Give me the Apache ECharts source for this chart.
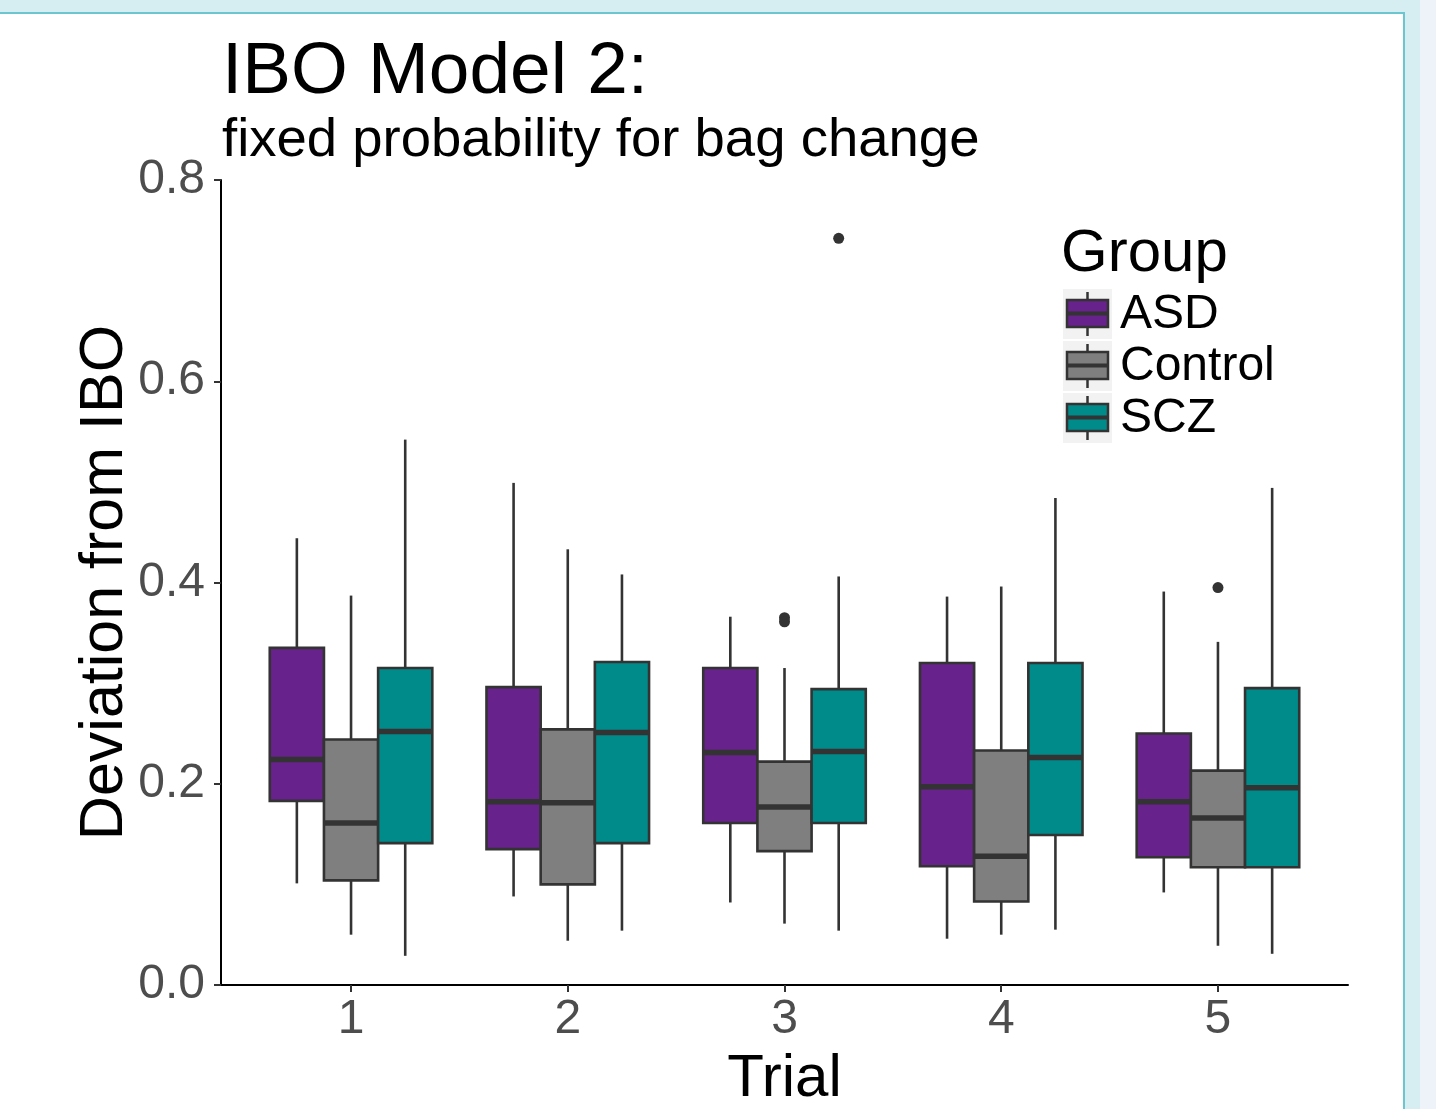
<!DOCTYPE html>
<html>
<head>
<meta charset="utf-8">
<script src="https://cdn.jsdelivr.net/npm/echarts@6/dist/echarts.min.js"></script>
<style>
  html, body { margin: 0; padding: 0; width: 1436px; height: 1109px; overflow: hidden; background: #d6eef2; }
  #frame { position: absolute; left: 0; top: 12px; width: 1403px; height: 1097px; background: #ffffff;
           border-top: 2px solid #6cc6cf; border-right: 2px solid #6cc6cf; }
  #strip { position: absolute; left: 1420px; top: 0; width: 16px; height: 1109px; background: #eef3f9; }
  #chart { position: absolute; left: 0; top: 0; width: 1436px; height: 1109px; }
</style>
</head>
<body>
<div id="frame"></div>
<div id="strip"></div>
<div id="chart"></div>
<script>
// ---- data ----
const trials = [1, 2, 3, 4, 5];
const groups = ['ASD', 'Control', 'SCZ'];
const groupColors = ['#68228b', '#7f7f7f', '#008b8b'];
// [lower whisker, Q1, median, Q3, upper whisker] per trial
const asdStats = [
  [0.101, 0.183, 0.224, 0.335, 0.444],
  [0.088, 0.135, 0.182, 0.296, 0.499],
  [0.082, 0.161, 0.231, 0.315, 0.366],
  [0.046, 0.118, 0.197, 0.320, 0.386],
  [0.092, 0.127, 0.182, 0.250, 0.391]
];
const controlStats = [
  [0.050, 0.104, 0.161, 0.244, 0.387],
  [0.044, 0.100, 0.181, 0.254, 0.433],
  [0.061, 0.133, 0.177, 0.222, 0.315],
  [0.050, 0.083, 0.128, 0.233, 0.396],
  [0.039, 0.117, 0.166, 0.213, 0.341]
];
const sczStats = [
  [0.029, 0.141, 0.252, 0.315, 0.542],
  [0.054, 0.141, 0.251, 0.321, 0.408],
  [0.054, 0.161, 0.232, 0.294, 0.406],
  [0.055, 0.149, 0.226, 0.320, 0.484],
  [0.031, 0.117, 0.196, 0.295, 0.494]
];
// outliers: [trial, value]
const asdOutliers = [];
const controlOutliers = [[3, 0.365], [3, 0.361], [5, 0.395]];
const sczOutliers = [[3, 0.742]];

// ---- layout / style ----
const dodge = 0.25;          // offset between groups in x units
const boxWidth = 0.25;       // width of each box in x units
const lineCol = '#333333';
const font = '"Liberation Sans", Arial, sans-serif';

const statsByGroup = [asdStats, controlStats, sczStats];
const outliersByGroup = [asdOutliers, controlOutliers, sczOutliers];

function makeBoxSeries(gi) {
  const offset = (gi - 1) * dodge;
  return {
    name: groups[gi],
    type: 'custom',
    z: 2,
    data: trials.map((t, i) => [t].concat(statsByGroup[gi][i])),
    encode: { x: 0, y: [1, 2, 3, 4, 5] },
    renderItem: function (params, api) {
      const x = api.value(0) + offset;
      const pLow = api.coord([x, api.value(1)]);
      const pQ1 = api.coord([x, api.value(2)]);
      const pMed = api.coord([x, api.value(3)]);
      const pQ3 = api.coord([x, api.value(4)]);
      const pHigh = api.coord([x, api.value(5)]);
      const w = api.size([boxWidth, 0])[0];
      const cx = pMed[0];
      return {
        type: 'group',
        children: [
          { type: 'line', shape: { x1: cx, y1: pHigh[1], x2: cx, y2: pQ3[1] },
            style: { stroke: lineCol, lineWidth: 2.6 } },
          { type: 'line', shape: { x1: cx, y1: pQ1[1], x2: cx, y2: pLow[1] },
            style: { stroke: lineCol, lineWidth: 2.6 } },
          { type: 'rect', shape: { x: cx - w / 2, y: pQ3[1], width: w, height: pQ1[1] - pQ3[1] },
            style: { fill: groupColors[gi], stroke: lineCol, lineWidth: 2.6 } },
          { type: 'line', shape: { x1: cx - w / 2, y1: pMed[1], x2: cx + w / 2, y2: pMed[1] },
            style: { stroke: lineCol, lineWidth: 5.5 } }
        ]
      };
    }
  };
}

function makeOutlierSeries(gi) {
  const offset = (gi - 1) * dodge;
  return {
    name: groups[gi] + ' outliers',
    type: 'scatter',
    z: 3,
    symbol: 'circle',
    symbolSize: 11,
    itemStyle: { color: lineCol, opacity: 1 },
    data: outliersByGroup[gi].map(d => [d[0] + offset, d[1]])
  };
}

const series = [];
for (let g = 0; g < 3; g++) series.push(makeBoxSeries(g));
for (let g = 0; g < 3; g++) series.push(makeOutlierSeries(g));

// legend keys drawn as boxplot glyphs
const legendX = 1063, legendY0 = 289, legendStep = 52;
const graphics = [
  { type: 'text', left: legendX - 2, top: 224,
    style: { text: 'Group', font: '60px ' + font, fill: '#000' } }
];
groups.forEach((g, i) => {
  const y = legendY0 + i * legendStep;
  graphics.push({ type: 'rect', shape: { x: legendX, y: y, width: 49, height: 50 },
                  style: { fill: '#f2f2f2' }, z: 10 });
  graphics.push({ type: 'line', shape: { x1: legendX + 24.5, y1: y + 3, x2: legendX + 24.5, y2: y + 47 },
                  style: { stroke: lineCol, lineWidth: 2.5 }, z: 11 });
  graphics.push({ type: 'rect', shape: { x: legendX + 4, y: y + 11, width: 41, height: 27 },
                  style: { fill: groupColors[i], stroke: lineCol, lineWidth: 2.5 }, z: 12 });
  graphics.push({ type: 'line', shape: { x1: legendX + 4, y1: y + 24.5, x2: legendX + 45, y2: y + 24.5 },
                  style: { stroke: lineCol, lineWidth: 4 }, z: 13 });
  graphics.push({ type: 'text', x: legendX + 57, y: y + 26, z: 13,
                  style: { text: g, font: '48px ' + font, fill: '#000', verticalAlign: 'middle', align: 'left' } });
});

const option = {
  animation: false,
  backgroundColor: 'transparent',
  title: {
    text: 'IBO Model 2:',
    subtext: 'fixed probability for bag change',
    left: 217,
    top: 31,
    itemGap: 4,
    textStyle: { fontFamily: font, fontSize: 73, fontWeight: 'normal', color: '#000' },
    subtextStyle: { fontFamily: font, fontSize: 54.5, color: '#000' }
  },
  grid: { left: 221, right: 88, top: 180, bottom: 124, containLabel: false, outerBoundsMode: 'none' },
  xAxis: {
    type: 'value',
    min: 0.4,
    max: 5.6,
    name: 'Trial',
    nameLocation: 'middle',
    nameGap: 64,
    nameMoveOverlap: false,
    nameTextStyle: { fontFamily: font, fontSize: 60, color: '#000' },
    axisLine: { show: true, onZero: false, lineStyle: { color: '#000', width: 2 } },
    axisTick: { show: true, length: 7, customValues: trials, lineStyle: { color: lineCol, width: 2 } },
    axisLabel: { customValues: trials, margin: 11, fontFamily: font, fontSize: 48, color: '#4d4d4d',
                 formatter: v => String(v) },
    splitLine: { show: false }
  },
  yAxis: {
    type: 'value',
    min: 0,
    max: 0.8,
    interval: 0.2,
    name: 'Deviation from IBO',
    nameLocation: 'middle',
    nameGap: 85,
    nameMoveOverlap: false,
    nameTextStyle: { fontFamily: font, fontSize: 61, color: '#000' },
    axisLine: { show: true, lineStyle: { color: '#000', width: 2 } },
    axisTick: { show: true, length: 7, lineStyle: { color: lineCol, width: 2 } },
    axisLabel: { margin: 16, fontFamily: font, fontSize: 48, color: '#4d4d4d',
                 formatter: v => v.toFixed(1) },
    splitLine: { show: false }
  },
  graphic: graphics,
  series: series
};

const chart = echarts.init(document.getElementById('chart'), null, { renderer: 'canvas' });
chart.setOption(option);
</script>
</body>
</html>
